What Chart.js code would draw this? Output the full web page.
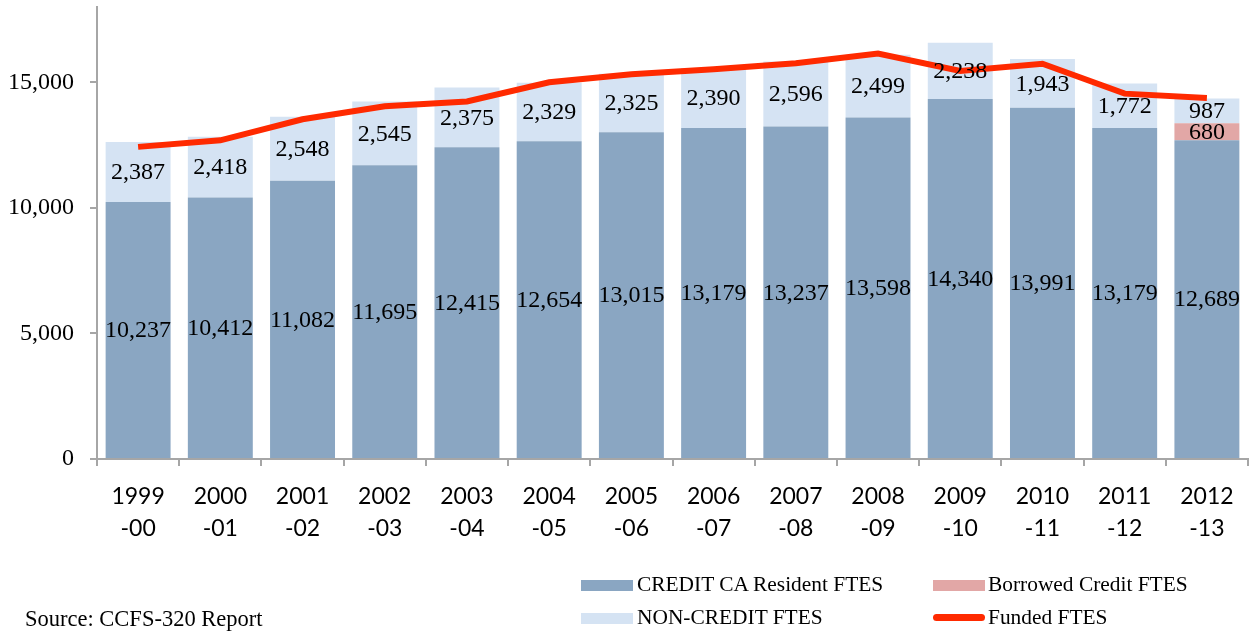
<!DOCTYPE html>
<html>
<head>
<meta charset="utf-8">
<script src="https://cdn.jsdelivr.net/npm/chart.js@4.4.1/dist/chart.umd.min.js"></script>
<style>
  body { margin: 0; background: #fff; }
  #wrap { position: relative; width: 1249px; height: 632px; }
  .lg { position: absolute; font-family: "Liberation Serif", serif; font-size: 21.4px; color: #000; white-space: nowrap; }
  .sw { position: absolute; width: 52px; height: 11px; }
</style>
</head>
<body>
<div id="wrap">
  <canvas id="fteChart" width="1249" height="632"></canvas>
  <div class="sw" style="left:581px;top:580px;background:#8aa6c2"></div>
  <div class="lg" style="left:637px;top:572px">CREDIT CA Resident FTES</div>
  <div class="sw" style="left:933px;top:580px;background:#e2a7a6"></div>
  <div class="lg" style="left:988px;top:572px">Borrowed Credit FTES</div>
  <div class="sw" style="left:581px;top:613px;background:#d5e3f3"></div>
  <div class="lg" style="left:637px;top:605px">NON-CREDIT FTES</div>
  <div class="sw" style="left:933px;top:614px;height:7px;border-radius:4px;background:#ff2a00"></div>
  <div class="lg" style="left:988px;top:605px">Funded FTES</div>
  <div class="lg" style="left:25px;top:606px;font-size:22.5px">Source: CCFS-320 Report</div>
</div>
<script>
// valeurs
const years = [
  ['1999', '-00'], ['2000', '-01'], ['2001', '-02'], ['2002', '-03'], ['2003', '-04'],
  ['2004', '-05'], ['2005', '-06'], ['2006', '-07'], ['2007', '-08'], ['2008', '-09'],
  ['2009', '-10'], ['2010', '-11'], ['2011', '-12'], ['2012', '-13']
];
const creditFtes = [10237, 10412, 11082, 11695, 12415, 12654, 13015, 13179, 13237, 13598, 14340, 13991, 13179, 12689];
const borrowedFtes = [null, null, null, null, null, null, null, null, null, null, null, null, null, 680];
const nonCreditFtes = [2387, 2418, 2548, 2545, 2375, 2329, 2325, 2390, 2596, 2499, 2238, 1943, 1772, 987];
const fundedFtes = [12430, 12690, 13530, 14050, 14240, 15000, 15320, 15520, 15760, 16150, 15450, 15740, 14550, 14380];
const yTicks = [0, 5000, 10000, 15000];

const axisGray = '#a6a6a6';

// etiquettes au centre de chaque segment
const segmentLabels = {
    id: 'segmentLabels',
    afterDraw(chart) {
        const ctx = chart.ctx;
        ctx.save();
        ctx.font = '24px "Liberation Serif", serif';
        ctx.fillStyle = '#000';
        ctx.textAlign = 'center';
        ctx.textBaseline = 'middle';
        chart.data.datasets.forEach((ds, i) => {
            if (ds.type !== 'bar') return;
            chart.getDatasetMeta(i).data.forEach((el, j) => {
                const v = ds.data[j];
                if (v == null) return;
                ctx.fillText(v.toLocaleString('en-US'), el.x, (el.y + el.base) / 2 + 1);
            });
        });
        ctx.restore();
    }
};

const ctx = document.getElementById('fteChart').getContext('2d');
new Chart(ctx, {
    data: {
        labels: years,
        datasets: [
            { type: 'line', label: 'Funded FTES', data: fundedFtes, stack: 'line', order: 0,
              borderColor: '#ff2a00', borderWidth: 6, pointRadius: 0, tension: 0, fill: false },
            { type: 'bar', label: 'CREDIT CA Resident FTES', data: creditFtes, stack: 'fte', order: 1,
              backgroundColor: '#8aa6c2' },
            { type: 'bar', label: 'Borrowed Credit FTES', data: borrowedFtes, stack: 'fte', order: 1,
              backgroundColor: '#e2a7a6' },
            { type: 'bar', label: 'NON-CREDIT FTES', data: nonCreditFtes, stack: 'fte', order: 1,
              backgroundColor: '#d5e3f3' }
        ]
    },
    options: {
        responsive: false,
        animation: false,
        layout: { padding: { top: 7, right: 1, left: 0, bottom: 0 } },
        datasets: { bar: { categoryPercentage: 1, barPercentage: 0.79 } },
        plugins: { legend: { display: false }, tooltip: { enabled: false } },
        scales: {
            x: {
                stacked: true,
                afterFit: s => { s.height = 173; s.paddingLeft = 0; s.paddingRight = 0; },
                border: { color: axisGray, width: 2 },
                grid: { offset: true, drawOnChartArea: false, drawTicks: true, tickLength: 7, color: axisGray, lineWidth: 2 },
                ticks: { color: '#000', padding: 14, maxRotation: 0, font: { family: 'Lato', size: 23, lineHeight: 1.4 } }
            },
            y: {
                stacked: true,
                min: 0,
                max: 18000,
                afterFit: s => { s.width = 97; s.paddingTop = 0; s.paddingBottom = 0; },
                afterBuildTicks: s => { s.ticks = yTicks.map(v => ({ value: v })); },
                border: { color: axisGray, width: 2 },
                grid: { drawOnChartArea: false, drawTicks: true, tickLength: 7, color: axisGray, lineWidth: 2 },
                ticks: { color: '#000', padding: 16, font: { family: 'Liberation Serif', size: 24 },
                         callback: v => v.toLocaleString('en-US') }
            }
        }
    },
    plugins: [segmentLabels]
});
</script>
</body>
</html>
